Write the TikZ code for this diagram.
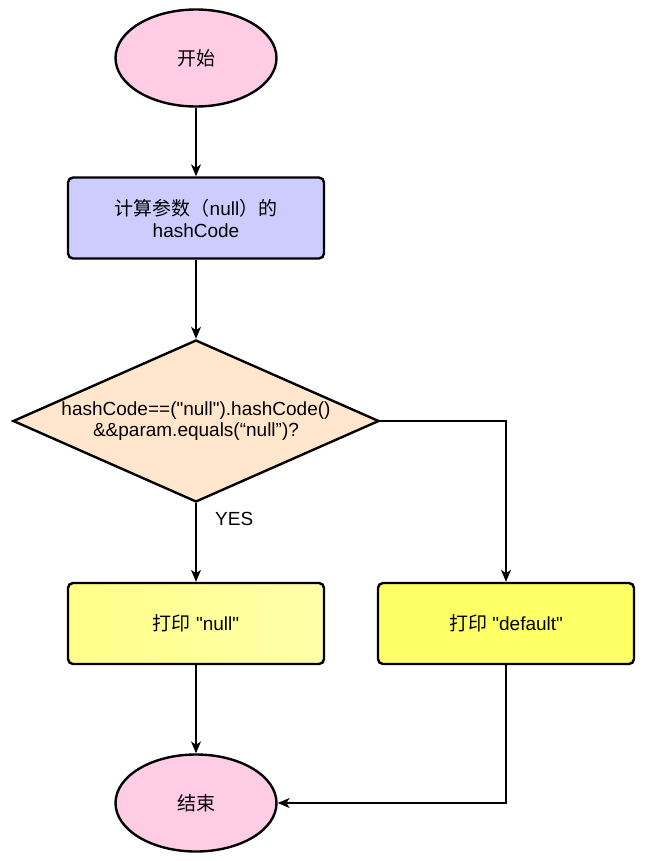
\documentclass[tikz,border=0pt]{standalone}
\usepackage{fontspec}
\setmainfont{Liberation Sans}[Ligatures=TeXOff]
\newfontfamily\cjk{Noto Sans CJK SC}
\usetikzlibrary{shapes.geometric,arrows.meta}
\definecolor{pinkfill}{HTML}{FFCCE6}
\definecolor{bluefill}{HTML}{CCCCFF}
\definecolor{peachfill}{HTML}{FFE6CC}
\definecolor{ylight}{HTML}{FFFF88}
\definecolor{ylighter}{HTML}{FFFFAA}
\definecolor{ystrong}{HTML}{FFFF66}
\tikzset{
  term/.style={ellipse, draw=black, line width=2.4pt, fill=pinkfill,
    minimum width=161pt, minimum height=97pt, inner sep=0pt, font=\fontsize{19}{22}\selectfont},
  proc/.style={rectangle, rounded corners=5pt, draw=black, line width=2.4pt,
    minimum width=256pt, minimum height=81pt, inner sep=0pt, align=center,
    font=\fontsize{19}{22}\selectfont},
  decis/.style={diamond, draw=black, line width=2.4pt, fill=peachfill,
    minimum width=366pt, minimum height=162pt, inner sep=0pt},
  lbl/.style={align=center, inner sep=0pt, font=\fontsize{19}{21}\selectfont},
  arr/.style={draw=black, line width=1.3pt, -{Stealth[length=12pt,width=10pt,inset=3.5pt]}}
}
\begin{document}
\begin{tikzpicture}[x=1pt,y=-1pt]
\useasboundingbox (0,0) rectangle (645,861);
\node[term] (start) at (196,58) {\cjk 开始};
\node[proc, fill=bluefill] (calc) at (196,218) {{\cjk 计算参数（}null{\cjk ）的}\\hashCode};
\node[decis] (dec) at (196,421) {};
\node[lbl] (dectext) at (dec.center) {hashCode==("null").hashCode()\\\&\&param.equals(“null”)?};
\node[proc, left color=ylight, right color=ylighter] (pnull) at (196,623.5) {{\cjk 打印} "null"};
\node[proc, fill=ystrong] (pdef) at (506,623.5) {{\cjk 打印} "default"};
\node[term] (end) at (196,803) {\cjk 结束};
\node[lbl, anchor=west] (yes) at (215,519) {YES};
\draw[arr] (start) -- (calc);
\draw[arr] (calc) -- (dec);
\draw[arr] (dec.south) -- (pnull.north);
\draw[arr] (dec.east) -| (pdef.north);
\draw[arr] (pnull) -- (end);
\draw[arr] (pdef.south) |- (end.east);
\end{tikzpicture}
\end{document}
